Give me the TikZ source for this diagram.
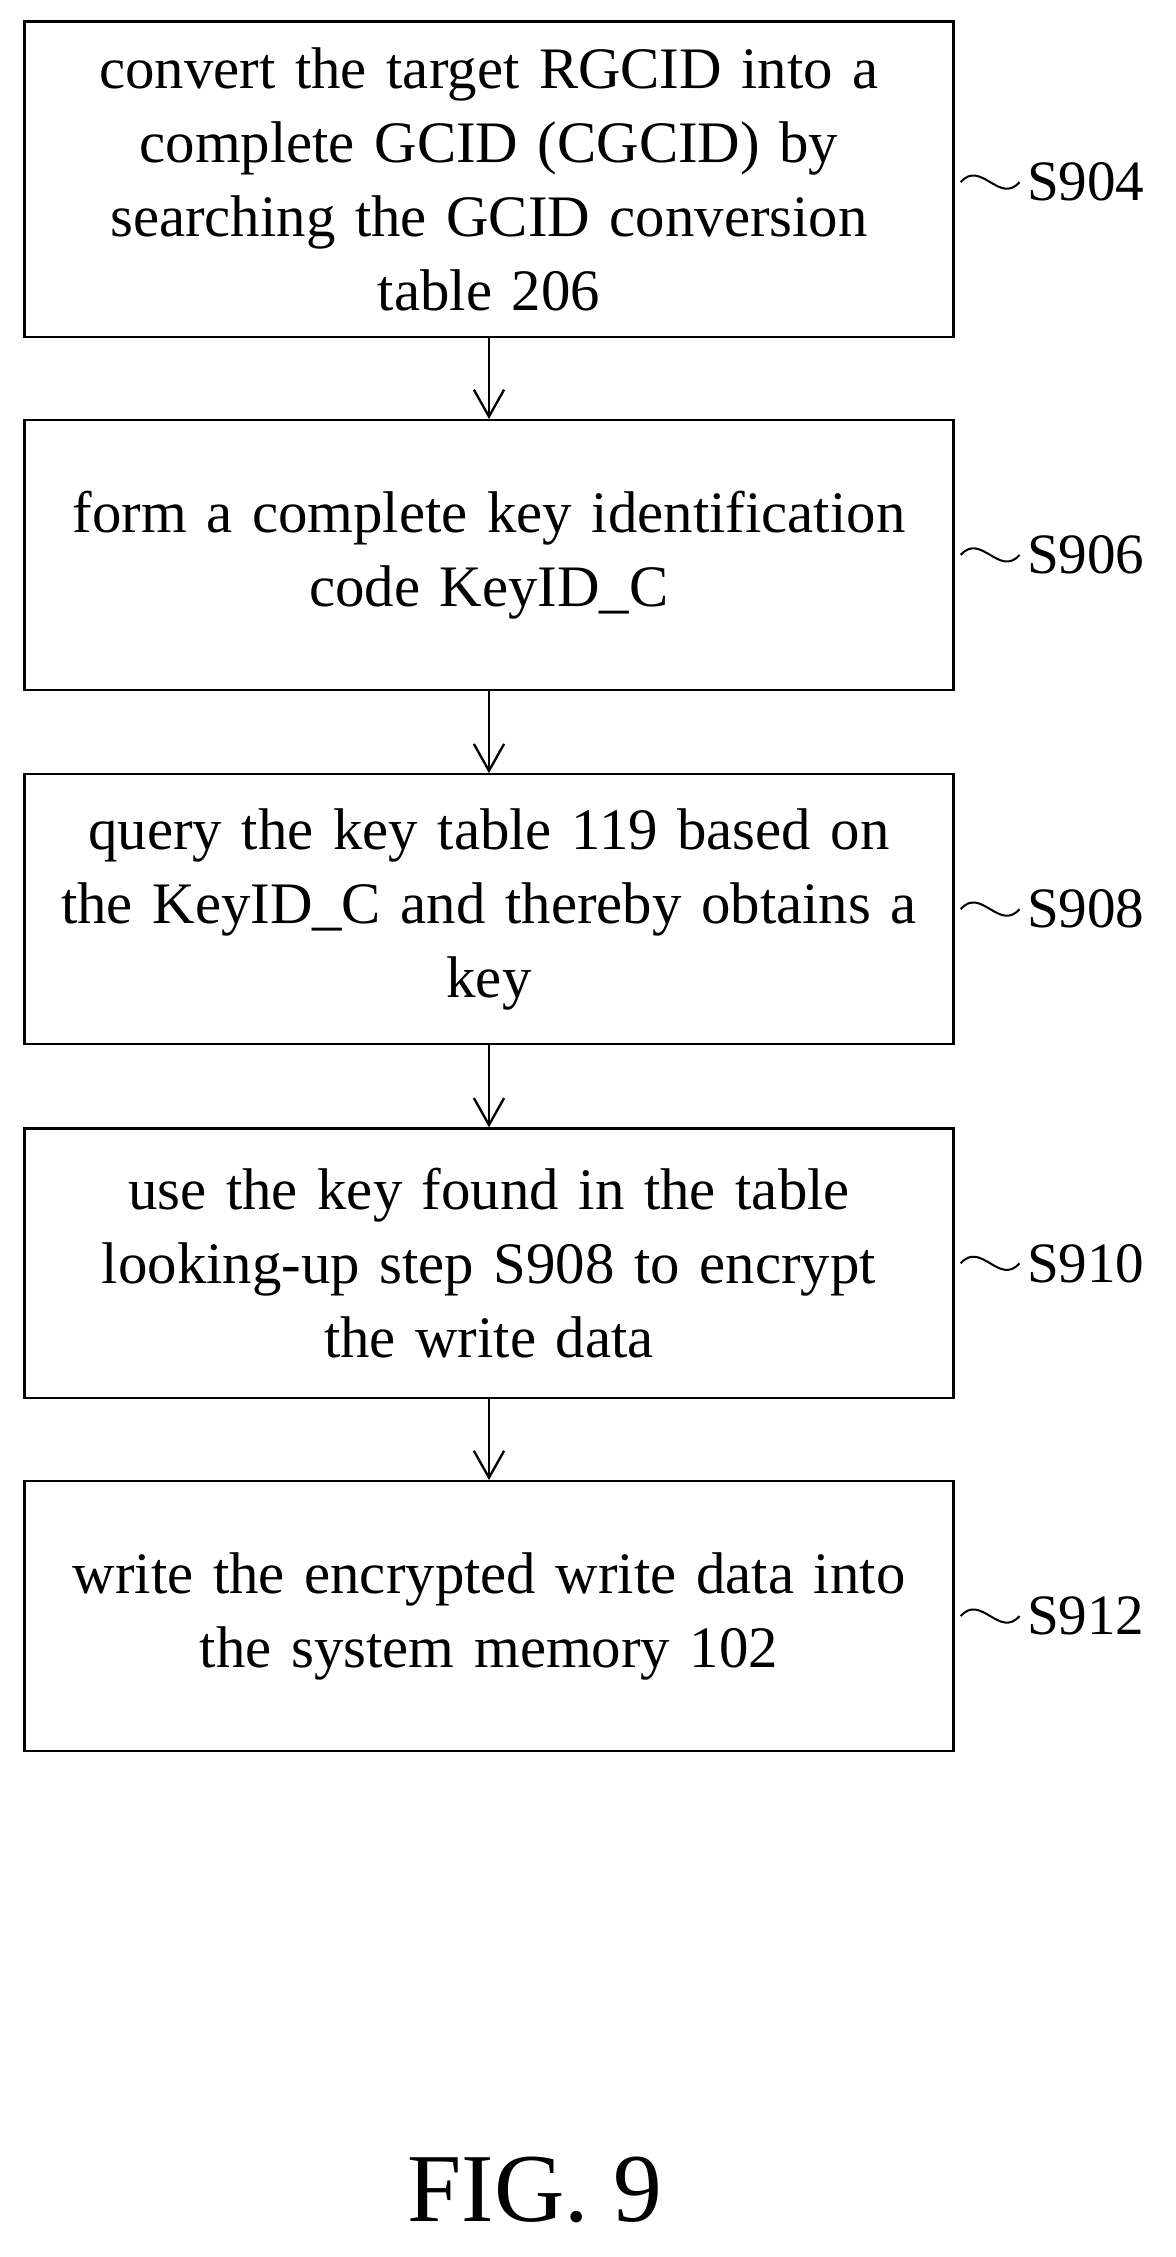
\documentclass[tikz,border=0pt]{standalone}
\usepackage{fontspec}
\setmainfont{Liberation Serif}
\usetikzlibrary{arrows.meta}
\begin{document}
\begin{tikzpicture}[x=0.03cm,y=-0.03cm,
    stepbox/.style={draw, line width=1.4pt, minimum width=19.44cm, text width=19cm, align=center, inner sep=0pt, font=\fontsize{35}{44}\selectfont},
    tag/.style={font=\fontsize{34}{40}\selectfont, anchor=west, inner sep=0pt},
    flow/.style={line width=1.4pt, -{Straight Barb[length=16pt,width=18pt,line width=1.4pt]}},
    wave/.style={line width=1.2pt}]
  \useasboundingbox (0,0) rectangle (820,1574);
  % steps
  \node[stepbox, minimum height=6.6cm] (s904) at (341,125) {convert the target RGCID into a\\ complete GCID (CGCID) by\\ searching the GCID conversion\\ table 206};
  \node[stepbox, minimum height=5.64cm] (s906) at (341,387) {form a complete key identification\\ code KeyID\_C};
  \node[stepbox, minimum height=5.64cm] (s908) at (341,634) {query the key table 119 based on\\ the KeyID\_C and thereby obtains a\\ key};
  \node[stepbox, minimum height=5.64cm] (s910) at (341,881) {use the key found in the table\\ looking-up step S908 to encrypt\\ the write data};
  \node[stepbox, minimum height=5.64cm] (s912) at (341,1127) {write the encrypted write data into\\ the system memory 102};

  \draw[flow] (s904) -- (s906);
  \draw[flow] (s906) -- (s908);
  \draw[flow] (s908) -- (s910);
  \draw[flow] (s910) -- (s912);

  % labels
  \foreach \n/\y in {904/127, 906/387, 908/634, 910/881, 912/1127}{
    \node[tag] (l\n) at (716,\y) {S\n};
    \coordinate (w\n) at (670,\y);
    \draw[wave] (w\n) .. controls +(14,-16) and +(-14,16) .. ([xshift=-0.15cm]l\n.west);
  }

  \node[font=\fontsize{58}{64}\selectfont] (fig) at (373,1527) {FIG. 9};
\end{tikzpicture}
\end{document}
